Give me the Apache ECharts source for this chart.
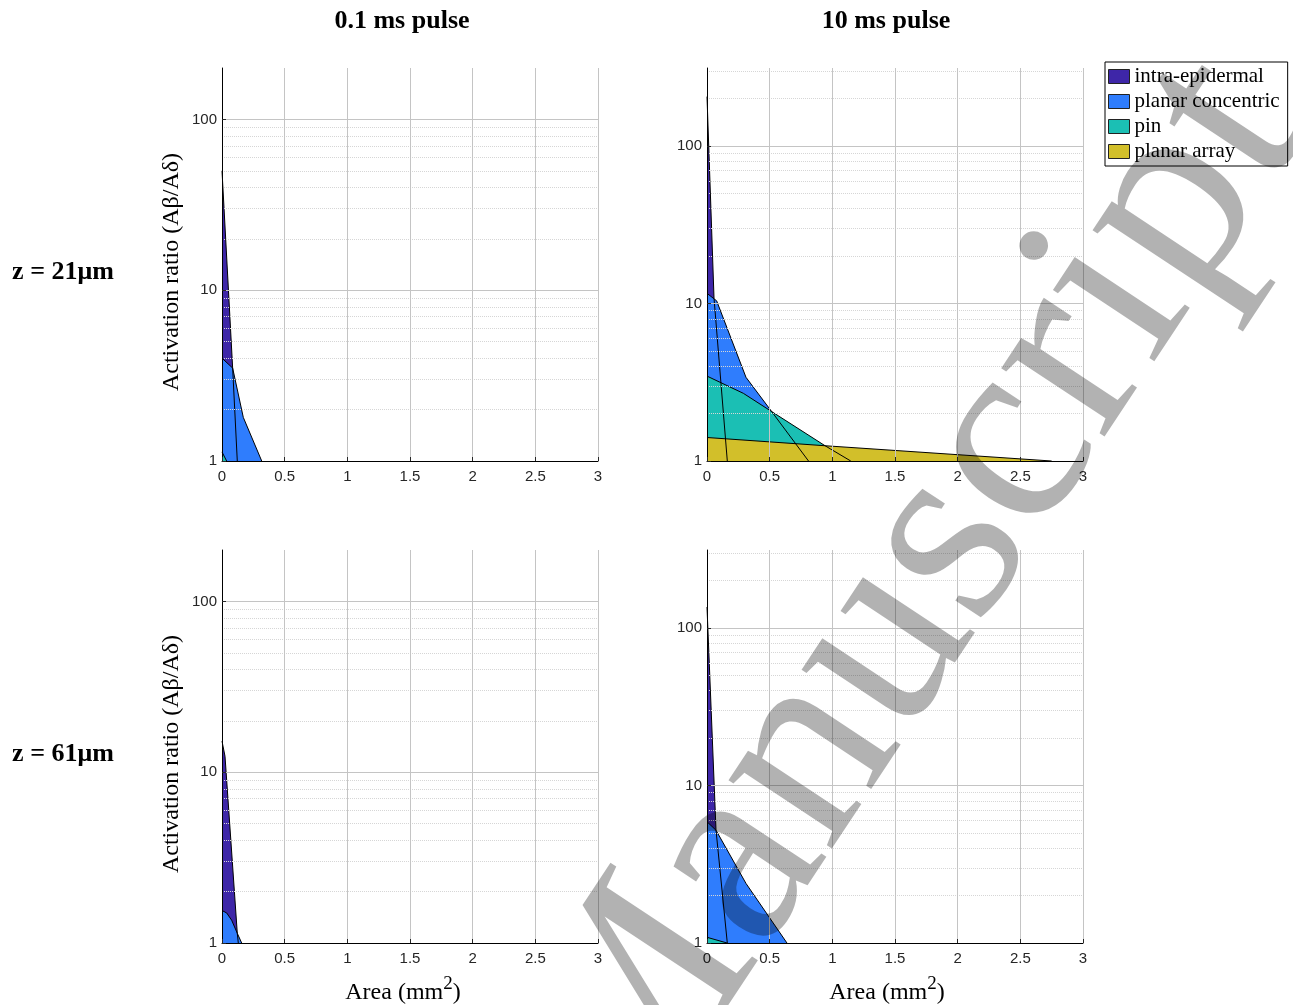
<!DOCTYPE html>
<html>
<head>
<meta charset="utf-8">
<script src="https://cdn.jsdelivr.net/npm/echarts@6/dist/echarts.min.js"></script>
<style>
html, body { margin: 0; padding: 0; background: #fff; }
#chart { width: 1293px; height: 1005px; }
</style>
</head>
<body>
<div id="chart"></div>
<script>
// legend / series names
const seriesNames = ['intra-epidermal', 'planar concentric', 'pin', 'planar array']
const colTitles = ['0.1 ms pulse', '10 ms pulse']
const rowTitles = ['z = 21μm', 'z = 61μm']
const xTicks = [0, 0.5, 1, 1.5, 2, 2.5, 3]
const yLabelTicks = [1, 10, 100]
const yMinorTicks = [2, 3, 4, 5, 6, 7, 8, 9, 20, 30, 40, 50, 60, 70, 80, 90, 200, 300]

// 0.1 ms pulse, z = 21um   [area mm2, activation ratio]
const a21Intra = [[0, 50], [0.085, 3.5], [0.122, 1]]
const a21Concentric = [[0, 4.0], [0.085, 3.5], [0.17, 1.8], [0.317, 1]]
const a21Pin = [[0, 1.13], [0.037, 1]]
const a21Array = []

// 10 ms pulse, z = 21um
const b21Intra = [[0, 206], [0.056, 10.8], [0.162, 1]]
const b21Concentric = [[0, 11.6], [0.077, 10.4], [0.311, 3.4], [0.516, 2.06], [0.81, 1]]
const b21Pin = [[0, 3.46], [0.29, 2.69], [0.516, 2.06], [0.942, 1.25], [1.147, 1]]
const b21Array = [[0, 1.41], [0.942, 1.25], [2.75, 1]]

// 0.1 ms pulse, z = 61um
const a61Intra = [[0, 15.2], [0.024, 12.4], [0.122, 1.14], [0.13, 1]]
const a61Concentric = [[0, 1.55], [0.037, 1.5], [0.077, 1.36], [0.122, 1.14], [0.157, 1]]
const a61Pin = []
const a61Array = []

// 10 ms pulse, z = 61um
const b61Intra = [[0, 136], [0.072, 5.2], [0.162, 1]]
const b61Concentric = [[0, 5.89], [0.072, 5.2], [0.311, 2.39], [0.638, 1]]
const b61Pin = [[0, 1.087], [0.16, 1]]
const b61Array = []

const yMaxShort = 200
const yMaxLong = 313

// styles
const fillColors = ['#3e26a8', '#2f7dfd', '#1bbfb4', '#d2bf2a']
const serif = '"Liberation Serif", "Times New Roman", serif'
const sans = '"Liberation Sans", Arial, sans-serif'

const panels = [
  { left: 222, top: 68, max: yMaxShort, sets: [a21Intra, a21Concentric, a21Pin, a21Array] },
  { left: 707, top: 68, max: yMaxLong, sets: [b21Intra, b21Concentric, b21Pin, b21Array] },
  { left: 222, top: 550, max: yMaxShort, sets: [a61Intra, a61Concentric, a61Pin, a61Array] },
  { left: 707, top: 550, max: yMaxLong, sets: [b61Intra, b61Concentric, b61Pin, b61Array] }
]

const chart = echarts.init(document.getElementById('chart'), null, { renderer: 'canvas' })

const grid = []
const xAxis = []
const yAxis = []
const series = []

panels.forEach((p, gi) => {
  grid.push({ left: p.left, top: p.top, width: 376, height: 393 })
  xAxis.push({
    type: 'value',
    gridIndex: gi,
    min: 0,
    max: 3,
    interval: 0.5,
    z: 10,
    axisLine: { show: true, lineStyle: { color: '#000', width: 1 } },
    axisTick: { show: true, inside: true, length: 4, lineStyle: { color: '#262626' } },
    axisLabel: { color: '#262626', fontSize: 15, fontFamily: sans, margin: 8 },
    splitLine: { show: false }
  })
  yAxis.push({
    type: 'log',
    logBase: 10,
    gridIndex: gi,
    min: 1,
    max: p.max,
    interval: 1,
    z: 10,
    axisLine: { show: true, lineStyle: { color: '#000', width: 1 } },
    axisTick: { show: true, inside: true, length: 4, lineStyle: { color: '#262626' } },
    axisLabel: {
      color: '#262626',
      fontSize: 15,
      fontFamily: sans,
      margin: 5,
      showMaxLabel: false,
      formatter: v => {
        const hit = yLabelTicks.find(t => Math.abs(t - v) < 1e-6)
        return hit ? String(hit) : ''
      }
    },
    splitLine: { show: false }
  })

  // grid lines, kept behind the filled areas
  const lines = []
  yMinorTicks.filter(v => v < p.max).forEach(v => {
    lines.push({ yAxis: v, lineStyle: { color: '#d6d6d6', type: 'dotted', width: 1 } })
  })
  yLabelTicks.slice(1).forEach(v => {
    lines.push({ yAxis: v, lineStyle: { color: '#c4c4c4', type: 'solid', width: 1 } })
  })
  xTicks.slice(1).forEach(v => {
    lines.push({ xAxis: v, lineStyle: { color: '#c4c4c4', type: 'solid', width: 1 } })
  })
  series.push({
    type: 'line',
    xAxisIndex: gi,
    yAxisIndex: gi,
    data: [],
    z: 1,
    silent: true,
    animation: false,
    markLine: {
      symbol: ['none', 'none'],
      silent: true,
      animation: false,
      label: { show: false },
      data: lines
    }
  })

  // filled polygons first, all outlines after
  p.sets.forEach((d, k) => {
    if (!d.length) return
    series.push({
      name: seriesNames[k],
      type: 'line',
      xAxisIndex: gi,
      yAxisIndex: gi,
      data: d,
      symbol: 'none',
      z: 2,
      animation: false,
      itemStyle: { color: fillColors[k] },
      lineStyle: { opacity: 0, width: 0 },
      areaStyle: { color: fillColors[k], opacity: 1, origin: 1 }
    })
  })
  p.sets.forEach((d, k) => {
    if (!d.length) return
    series.push({
      name: seriesNames[k] + ' outline',
      type: 'line',
      xAxisIndex: gi,
      yAxisIndex: gi,
      data: d,
      symbol: 'none',
      z: 3,
      animation: false,
      lineStyle: { color: '#000', width: 1 }
    })
  })
})

const graphic = [
  { type: 'text', x: 402, y: 21, style: { text: colTitles[0], fontSize: 26, fontWeight: 'bold', fontFamily: serif, fill: '#000', align: 'center', verticalAlign: 'middle' } },
  { type: 'text', x: 886, y: 21, style: { text: colTitles[1], fontSize: 26, fontWeight: 'bold', fontFamily: serif, fill: '#000', align: 'center', verticalAlign: 'middle' } },
  { type: 'text', x: 63, y: 272, style: { text: rowTitles[0], fontSize: 26, fontWeight: 'bold', fontFamily: serif, fill: '#000', align: 'center', verticalAlign: 'middle' } },
  { type: 'text', x: 63, y: 754, style: { text: rowTitles[1], fontSize: 26, fontWeight: 'bold', fontFamily: serif, fill: '#000', align: 'center', verticalAlign: 'middle' } },
  { type: 'text', x: 172, y: 272, rotation: Math.PI / 2, style: { text: 'Activation ratio (Aβ/Aδ)', fontSize: 24, fontFamily: serif, fill: '#000', align: 'center', verticalAlign: 'middle' } },
  { type: 'text', x: 172, y: 754, rotation: Math.PI / 2, style: { text: 'Activation ratio (Aβ/Aδ)', fontSize: 24, fontFamily: serif, fill: '#000', align: 'center', verticalAlign: 'middle' } }
]
;[403, 887].forEach(cx => {
  graphic.push({
    type: 'text',
    x: cx,
    y: 990,
    style: {
      text: '{a|Area (mm}{s|2}{a|)}',
      align: 'center',
      verticalAlign: 'middle',
      rich: {
        a: { fontSize: 24, fontFamily: serif, fill: '#000', lineHeight: 30, verticalAlign: 'bottom' },
        s: { fontSize: 19, fontFamily: serif, fill: '#000', lineHeight: 30, verticalAlign: 'top' }
      }
    }
  })
})
// watermark
graphic.push({
  type: 'text',
  x: 910,
  y: 602,
  rotation: 56.5 * Math.PI / 180,
  z: 100,
  silent: true,
  style: {
    text: 'Manuscript',
    fontSize: 270,
    fontFamily: serif,
    fill: 'rgba(0,0,0,0.3)',
    align: 'center',
    verticalAlign: 'middle'
  }
})

chart.setOption({
  backgroundColor: '#fff',
  animation: false,
  grid,
  xAxis,
  yAxis,
  legend: {
    data: seriesNames.map(n => ({ name: n })),
    orient: 'vertical',
    left: 1105,
    top: 62,
    icon: 'rect',
    itemWidth: 21,
    itemHeight: 14,
    itemGap: 4,
    padding: [4, 8, 4, 3],
    borderColor: '#000',
    borderWidth: 1,
    backgroundColor: '#fff',
    selectedMode: false,
    itemStyle: { borderColor: '#222', borderWidth: 1 },
    textStyle: { fontFamily: serif, fontSize: 21, color: '#000', lineHeight: 21 }
  },
  graphic,
  series
})
</script>
</body>
</html>
